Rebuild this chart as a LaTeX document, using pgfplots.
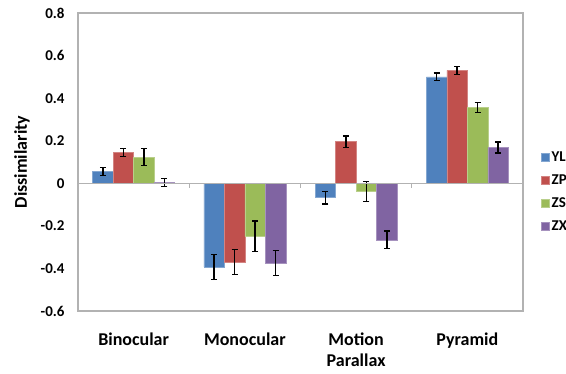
\documentclass[border=0pt]{standalone}
\usepackage{pgfplots}
\pgfplotsset{compat=1.18}
\usepackage{pgfplotstable}
\usepackage{fontspec}
\setmainfont{Carlito}
\definecolor{cYL}{HTML}{4F81BD}
\definecolor{cZP}{HTML}{C0504D}
\definecolor{cZS}{HTML}{9BBB59}
\definecolor{cZX}{HTML}{8064A2}
\pgfplotstableread{
x YL YLe ZP ZPe ZS ZSe ZX ZXe
0 0.055 0.020 0.145 0.020 0.123 0.040 0.003 0.018
1 -0.393 0.060 -0.370 0.058 -0.249 0.072 -0.375 0.058
2 -0.068 0.030 0.195 0.027 -0.038 0.048 -0.266 0.042
3 0.500 0.018 0.530 0.020 0.355 0.024 0.168 0.026
}\datatable
\begin{document}
\begin{tikzpicture}
\begin{axis}[
  at={(0,0)}, anchor=south west,
  scale only axis, width=445pt, height=298pt,
  xmin=-0.5, xmax=3.5, ymin=-0.6, ymax=0.8,
  ybar=0pt, bar width=20.5pt,
  xtick={0,1,2,3},
  xticklabels={Binocular,Monocular,{Motion\\Parallax},Pyramid},
  xticklabel style={font=\fontsize{18}{21}\selectfont\bfseries, align=center, anchor=north, yshift=-18pt},
  ytick={-0.6,-0.4,-0.2,0,0.2,0.4,0.6,0.8},
  yticklabels={-0.6,-0.4,-0.2,0,0.2,0.4,0.6,0.8},
  yticklabel style={font=\fontsize{15}{18}\selectfont\bfseries, anchor=east, xshift=-10pt},
  major tick length=0pt,
  axis line style={draw=gray!60, line width=1.2pt},
  ylabel={Dissimilarity},
  every axis y label/.style={at={(axis description cs:-0.126,0.5)}, rotate=90, anchor=center, font=\fontsize{18}{21}\selectfont\bfseries},
  legend style={draw=none, at={(1.040,0.40)}, anchor=west, font=\fontsize{15}{18}\selectfont\bfseries, row sep=8pt, inner sep=0pt},
  legend cell align=left,
  legend image code/.code={\fill[#1] (0pt,-4pt) rectangle (8pt,4pt);},
  error bars/y dir=both, error bars/y explicit,
  error bars/error bar style={black, line width=1.3pt},
  error bars/error mark options={black, rotate=90, mark size=3pt, line width=1.3pt},
  clip=false,
]
\addplot[fill=cYL, draw=cYL!70!white, line width=0.6pt] table[x=x, y=YL, y error=YLe] {\datatable};
\addplot[fill=cZP, draw=cZP!70!white, line width=0.6pt] table[x=x, y=ZP, y error=ZPe] {\datatable};
\addplot[fill=cZS, draw=cZS!70!white, line width=0.6pt] table[x=x, y=ZS, y error=ZSe] {\datatable};
\addplot[fill=cZX, draw=cZX!70!white, line width=0.6pt] table[x=x, y=ZX, y error=ZXe] {\datatable};
\legend{YL,ZP,ZS,ZX}
\draw[gray!60, line width=1.4pt] (axis cs:-0.5,0) -- (axis cs:3.5,0);
\draw[gray!60, line width=1pt] (axis cs:0.5,0) -- ++(0pt,-5pt);
\draw[gray!60, line width=1pt] (axis cs:1.5,0) -- ++(0pt,-5pt);
\draw[gray!60, line width=1pt] (axis cs:2.5,0) -- ++(0pt,-5pt);
\end{axis}
\pgfresetboundingbox
\path[use as bounding box] (-78pt,-63pt) rectangle (488pt,311pt);
\end{tikzpicture}
\end{document}
